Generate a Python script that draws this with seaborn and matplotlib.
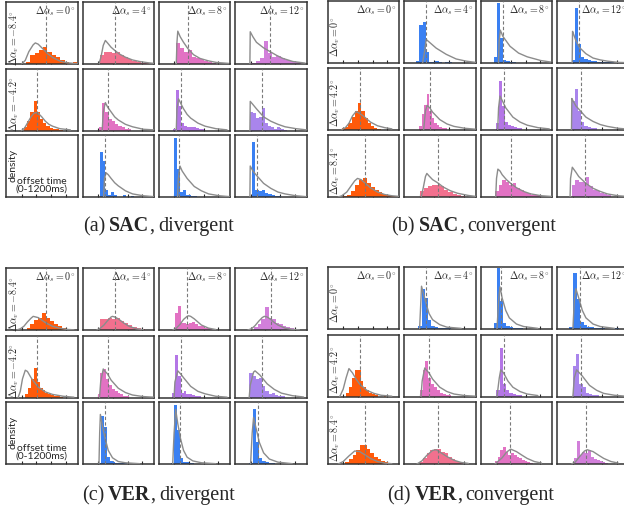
import numpy as np
import pandas as pd
import matplotlib
matplotlib.use("Agg")
import matplotlib.pyplot as plt
import seaborn as sns

# ---------------- labels ----------------
col_titles = [r"$\Delta\alpha_s = 0^{\circ}$", r"$\Delta\alpha_s = 4^{\circ}$",
              r"$\Delta\alpha_s = 8^{\circ}$", r"$\Delta\alpha_s = 12^{\circ}$"]
div_row_labels = [r"$\Delta\alpha_v = -8.4^{\circ}$", r"$\Delta\alpha_v = -4.2^{\circ}$", None]
conv_row_labels = [r"$\Delta\alpha_v = 0^{\circ}$", r"$\Delta\alpha_v = 4.2^{\circ}$", r"$\Delta\alpha_v = 8.4^{\circ}$"]
captions = [("(a)", "SAC", "divergent"), ("(b)", "SAC", "convergent"),
            ("(c)", "VER", "divergent"), ("(d)", "VER", "convergent")]
x_ticks = [250, 500, 750, 1000]

# ---------------- colours per cell (row-major, 3x4) ----------------
ORANGE, PINK, MAGENTA, ORCHID = "#FF5A0A", "#F2708E", "#E272C3", "#D27FDA"
VIOLET, LAVENDER, BLUE = "#B476E6", "#A985EC", "#3A80F2"
div_colors = [ORANGE, PINK, MAGENTA, ORCHID,
              ORANGE, MAGENTA, VIOLET, LAVENDER,
              None, BLUE, BLUE, BLUE]
conv_colors = [None, BLUE, BLUE, BLUE,
               ORANGE, MAGENTA, VIOLET, LAVENDER,
               ORANGE, PINK, MAGENTA, ORCHID]

# ---------------- (a) SAC divergent ----------------
sac_div_start = [322, 273, 285, 261, 285, 261, 224, 236, None, 273, 248, 273]
sac_div_width = [73, 70, 68, 71, 55, 55, 49, 52, None, 49, 49, 55]
sac_div_heights = [
    [0.04, 0.15, 0.17, 0.22, 0.28, 0.20, 0.15, 0.11, 0.07, 0.04, 0.02, 0.03],
    [0.15, 0.20, 0.20, 0.18, 0.19, 0.15, 0.12, 0.08, 0.055, 0.04, 0.02, 0.01],
    [0.34, 0.26, 0.20, 0.22, 0.12, 0.09, 0.08, 0.05, 0.04, 0.02],
    [0.02, 0.05, 0.10, 0.37, 0.17, 0.12, 0.13, 0.09, 0.07, 0.05, 0.04, 0.03],
    [0.06, 0.16, 0.30, 0.47, 0.30, 0.18, 0.12, 0.07, 0.04, 0.03, 0.02, 0.01],
    [0.05, 0.45, 0.30, 0.18, 0.15, 0.10, 0.07, 0.05, 0.03, 0.02],
    [0.03, 0.66, 0.40, 0.12, 0.08, 0.06, 0.05, 0.05, 0.04, 0.03, 0.02],
    [0.30, 0.28, 0.20, 0.22, 0.37, 0.12, 0.07, 0.05, 0.03, 0.05, 0.02, 0.01],
    None,
    [0.73, 0.58, 0.12, 0.04, 0.08, 0.03, 0.0, 0.0, 0.04, 0.0, 0.0, 0.01],
    [0.95, 0.45, 0.08, 0.12, 0.04, 0.03, 0.02, 0.01],
    [0.88, 0.12, 0.10, 0.12, 0.06, 0.05, 0.03, 0.02, 0.01],
]
sac_div_dash = [658, 530, 480, 575, 517, 420, 358, 443, None, 358, 334, 357]
sac_div_curve_x = [
    [248, 309, 370, 444, 480, 529, 614, 688, 785, 895, 1017, 1200],
    [261, 297, 334, 370, 407, 468, 529, 612, 712, 834, 956, 1100, 1200],
    [283, 295, 309, 350, 407, 480, 578, 688, 834, 968, 1176],
    [234, 240, 285, 346, 468, 578, 688, 797, 968, 1176],
    [248, 297, 346, 407, 456, 517, 590, 651, 712, 773, 895, 1078],
    [316, 334, 370, 407, 468, 529, 590, 712, 834, 1017, 1200],
    [283, 295, 322, 358, 407, 468, 529, 651, 773, 956, 1150],
    [234, 240, 285, 346, 468, 590, 712, 834, 1017, 1200],
    None,
    [340, 355, 383, 419, 468, 529, 590, 712, 834, 1017, 1200],
    [305, 318, 346, 383, 468, 590, 712, 834, 1017, 1200],
    [234, 240, 285, 346, 468, 590, 712, 834, 1017, 1200],
]
sac_div_curve_y = [
    [0, 0.06, 0.20, 0.31, 0.34, 0.32, 0.24, 0.17, 0.10, 0.05, 0.02, 0.005],
    [0, 0.12, 0.30, 0.38, 0.34, 0.27, 0.22, 0.16, 0.11, 0.065, 0.04, 0.02, 0.01],
    [0, 0.35, 0.53, 0.44, 0.35, 0.25, 0.15, 0.09, 0.05, 0.025, 0.01],
    [0, 0.52, 0.44, 0.35, 0.26, 0.20, 0.14, 0.09, 0.04, 0.015],
    [0, 0.04, 0.12, 0.22, 0.28, 0.29, 0.22, 0.15, 0.10, 0.07, 0.03, 0.01],
    [0, 0.30, 0.45, 0.38, 0.30, 0.22, 0.17, 0.10, 0.06, 0.02, 0.01],
    [0, 0.35, 0.51, 0.44, 0.35, 0.26, 0.20, 0.12, 0.07, 0.03, 0.01],
    [0, 0.47, 0.42, 0.35, 0.22, 0.15, 0.10, 0.06, 0.03, 0.01],
    None,
    [0, 0.30, 0.39, 0.36, 0.30, 0.23, 0.18, 0.10, 0.05, 0.02, 0.005],
    [0, 0.30, 0.50, 0.42, 0.30, 0.17, 0.10, 0.05, 0.02, 0.005],
    [0, 0.50, 0.42, 0.35, 0.22, 0.14, 0.08, 0.05, 0.02, 0.005],
]

# ---------------- (b) SAC convergent ----------------
sac_conv_start = [None, 187, 200, 224, 227, 236, 248, 224, 248, 248, 224, 224]
sac_conv_width = [None, 55, 55, 55, 55, 43, 49, 55, 67, 70, 61, 61]
sac_conv_heights = [
    None,
    [0.04, 0.62, 0.66, 0.18, 0.02, 0.02, 0.03, 0.02, 0.0, 0.02, 0.01],
    [0.10, 0.97, 0.40, 0.05, 0.03, 0.02, 0.01],
    [0.05, 0.88, 0.30, 0.10, 0.07, 0.05, 0.04, 0.03, 0.02, 0.02, 0.01, 0.02, 0.01],
    [0.02, 0.04, 0.10, 0.20, 0.30, 0.42, 0.30, 0.18, 0.10, 0.05, 0.03, 0.01],
    [0.05, 0.25, 0.40, 0.57, 0.30, 0.18, 0.10, 0.07, 0.04, 0.03, 0.02],
    [0.10, 0.78, 0.38, 0.12, 0.08, 0.05, 0.04, 0.03, 0.02],
    [0.46, 0.66, 0.30, 0.12, 0.06, 0.04, 0.03, 0.02],
    [0.02, 0.04, 0.10, 0.20, 0.27, 0.30, 0.22, 0.16, 0.12, 0.08, 0.05, 0.03, 0.02, 0.02],
    [0.10, 0.15, 0.17, 0.20, 0.19, 0.17, 0.12, 0.08, 0.05, 0.03, 0.02],
    [0.10, 0.20, 0.28, 0.25, 0.20, 0.22, 0.15, 0.12, 0.08, 0.06, 0.04, 0.03, 0.02],
    [0.20, 0.28, 0.25, 0.25, 0.32, 0.18, 0.12, 0.10, 0.06, 0.05, 0.03],
]
sac_conv_dash = [None, 358, 358, 358, 529, 425, 370, 383, 614, 555, 490, 456]
sac_conv_curve_x = [
    None,
    [297, 334, 358, 383, 529, 700, 870, 1040, 1200],
    [283, 295, 315, 358, 480, 626, 773, 1005, 1176],
    [234, 240, 260, 297, 358, 468, 590, 712, 834, 1017, 1200],
    [224, 285, 346, 407, 468, 529, 590, 712, 834, 956, 1078],
    [316, 346, 375, 419, 468, 590, 712, 834, 1017, 1200],
    [270, 285, 309, 346, 407, 529, 651, 773, 956, 1150],
    [222, 228, 250, 297, 346, 468, 590, 712, 834, 1017, 1200],
    [163, 224, 309, 383, 444, 492, 553, 614, 712, 834, 956, 1078, 1200],
    [273, 309, 346, 370, 407, 468, 553, 651, 773, 895, 1078, 1200],
    [236, 250, 273, 309, 346, 419, 490, 590, 712, 834, 1017, 1200],
    [198, 206, 236, 297, 346, 468, 590, 712, 834, 1017, 1200],
]
sac_conv_curve_y = [
    None,
    [0, 0.20, 0.38, 0.36, 0.24, 0.14, 0.065, 0.03, 0.01],
    [0, 0.35, 0.53, 0.43, 0.27, 0.16, 0.10, 0.04, 0.015],
    [0, 0.51, 0.46, 0.36, 0.25, 0.15, 0.08, 0.05, 0.03, 0.01, 0.005],
    [0, 0.03, 0.10, 0.22, 0.29, 0.26, 0.22, 0.12, 0.06, 0.03, 0.01],
    [0, 0.30, 0.39, 0.35, 0.28, 0.16, 0.09, 0.05, 0.02, 0.005],
    [0, 0.35, 0.54, 0.47, 0.35, 0.20, 0.12, 0.07, 0.03, 0.01],
    [0, 0.50, 0.46, 0.38, 0.33, 0.20, 0.13, 0.08, 0.05, 0.02, 0.005],
    [0, 0.02, 0.08, 0.18, 0.26, 0.30, 0.28, 0.23, 0.15, 0.08, 0.04, 0.02, 0.01],
    [0, 0.15, 0.33, 0.38, 0.34, 0.28, 0.23, 0.16, 0.10, 0.06, 0.025, 0.01],
    [0, 0.30, 0.45, 0.42, 0.36, 0.28, 0.22, 0.15, 0.09, 0.05, 0.02, 0.008],
    [0, 0.30, 0.48, 0.40, 0.33, 0.22, 0.14, 0.09, 0.05, 0.02, 0.008],
]

# ---------------- (c) VER divergent ----------------
ver_div_start = [330, 273, 261, 309, 310, 236, 212, 224, None, 248, 200, 224]
ver_div_width = [67, 70, 49, 61, 49, 49, 49, 55, None, 49, 49, 55]
ver_div_heights = [
    [0.03, 0.10, 0.16, 0.20, 0.28, 0.20, 0.15, 0.10, 0.07, 0.04, 0.02, 0.02],
    [0.18, 0.18, 0.20, 0.17, 0.20, 0.15, 0.12, 0.08, 0.05, 0.03, 0.02],
    [0.28, 0.39, 0.12, 0.12, 0.10, 0.12, 0.13, 0.10, 0.07, 0.06, 0.04, 0.03, 0.02],
    [0.05, 0.10, 0.18, 0.37, 0.20, 0.17, 0.12, 0.10, 0.07, 0.05, 0.03, 0.02],
    [0.05, 0.15, 0.30, 0.47, 0.25, 0.15, 0.12, 0.08, 0.05, 0.04, 0.03, 0.02, 0.01],
    [0.05, 0.40, 0.46, 0.30, 0.20, 0.14, 0.10, 0.07, 0.05, 0.03, 0.02],
    [0.08, 0.68, 0.35, 0.08, 0.10, 0.05, 0.06, 0.04, 0.03, 0.02],
    [0.40, 0.35, 0.30, 0.31, 0.19, 0.10, 0.06, 0.08, 0.04, 0.03, 0.02],
    None,
    [0.02, 0.78, 0.59, 0.12, 0.05, 0.04, 0.02, 0.01, 0.02, 0.01],
    [0.02, 0.95, 0.55, 0.10, 0.04, 0.03, 0.02, 0.01],
    [0.02, 0.88, 0.35, 0.10, 0.05, 0.03, 0.02, 0.01],
]
ver_div_dash = [658, 530, 470, 590, 505, 415, 358, 443, None, 358, 346, 370]
ver_div_curve_x = [
    [163, 224, 285, 346, 407, 444, 529, 590, 651, 773, 895, 1017, 1139],
    [224, 285, 346, 407, 468, 492, 529, 590, 688, 773, 895, 1017],
    [224, 285, 346, 407, 468, 492, 529, 590, 651, 712, 834, 956],
    [200, 261, 322, 383, 444, 480, 529, 590, 651, 712, 834, 956, 1078],
    [187, 224, 261, 309, 346, 407, 468, 529, 651, 773, 956, 1139],
    [270, 290, 334, 358, 407, 468, 590, 712, 834, 1017, 1200],
    [246, 260, 309, 358, 407, 529, 651, 773, 956, 1150],
    [222, 240, 297, 322, 407, 529, 651, 773, 956, 1150],
    None,
    [261, 273, 285, 322, 370, 419, 492, 590, 712, 956],
    [222, 246, 273, 309, 358, 407, 468, 566, 712, 956],
    [246, 273, 297, 346, 395, 468, 566, 712, 956],
]
ver_div_curve_y = [
    [0, 0.02, 0.06, 0.13, 0.19, 0.22, 0.20, 0.16, 0.12, 0.06, 0.03, 0.01, 0.003],
    [0, 0.03, 0.08, 0.15, 0.21, 0.22, 0.21, 0.18, 0.11, 0.06, 0.02, 0.005],
    [0, 0.03, 0.09, 0.17, 0.22, 0.23, 0.22, 0.18, 0.13, 0.08, 0.03, 0.008],
    [0, 0.02, 0.07, 0.14, 0.20, 0.22, 0.21, 0.17, 0.12, 0.08, 0.03, 0.01, 0.003],
    [0, 0.10, 0.30, 0.44, 0.42, 0.32, 0.24, 0.17, 0.09, 0.05, 0.02, 0.005],
    [0, 0.25, 0.46, 0.43, 0.38, 0.28, 0.15, 0.08, 0.04, 0.015, 0.005],
    [0, 0.25, 0.43, 0.38, 0.32, 0.18, 0.10, 0.06, 0.02, 0.005],
    [0, 0.20, 0.41, 0.43, 0.36, 0.22, 0.13, 0.07, 0.03, 0.008],
    None,
    [0, 0.50, 0.80, 0.60, 0.40, 0.22, 0.10, 0.04, 0.02, 0.005],
    [0, 0.50, 0.88, 0.65, 0.40, 0.22, 0.11, 0.05, 0.02, 0.005],
    [0, 0.50, 0.75, 0.55, 0.35, 0.18, 0.08, 0.03, 0.005],
]

# ---------------- (d) VER convergent ----------------
ver_conv_start = [None, 224, 200, 187, 300, 248, 248, 248, 285, 248, 224, 261]
ver_conv_width = [None, 55, 55, 61, 49, 49, 55, 55, 61, 61, 46, 49]
ver_conv_heights = [
    None,
    [0.05, 0.65, 0.50, 0.15, 0.05, 0.03, 0.02, 0.02, 0.01, 0.01],
    [0.10, 0.98, 0.45, 0.10, 0.05, 0.03, 0.02, 0.01, 0.01],
    [0.04, 0.90, 0.48, 0.12, 0.06, 0.04, 0.03, 0.02, 0.02, 0.01, 0.0, 0.0, 0.02, 0.01],
    [0.05, 0.15, 0.30, 0.43, 0.43, 0.25, 0.15, 0.10, 0.06, 0.04, 0.02, 0.0, 0.0, 0.02],
    [0.10, 0.43, 0.58, 0.30, 0.20, 0.15, 0.10, 0.06, 0.04, 0.03, 0.02],
    [0.10, 0.78, 0.20, 0.10, 0.05, 0.04, 0.03, 0.02],
    [0.50, 0.68, 0.20, 0.15, 0.05, 0.04, 0.03, 0.02],
    [0.03, 0.08, 0.15, 0.22, 0.30, 0.31, 0.25, 0.18, 0.12, 0.08, 0.05, 0.03],
    [0.03, 0.10, 0.18, 0.22, 0.25, 0.24, 0.20, 0.17, 0.12, 0.08, 0.05, 0.03],
    [0.05, 0.12, 0.23, 0.27, 0.20, 0.15, 0.18, 0.14, 0.12, 0.10, 0.06, 0.05, 0.03, 0.02],
    [0.10, 0.37, 0.15, 0.20, 0.18, 0.22, 0.12, 0.08, 0.07, 0.05, 0.03, 0.02],
]
ver_conv_dash = [None, 358, 334, 370, 529, 407, 370, 383, 614, 566, 480, 468]
ver_conv_curve_x = [
    None,
    [246, 270, 279, 346, 407, 468, 590, 712, 956],
    [258, 285, 309, 346, 407, 468, 590, 712, 956],
    [246, 270, 297, 346, 407, 468, 590, 712, 956],
    [187, 200, 248, 297, 346, 407, 468, 529, 651, 773, 895, 1078],
    [270, 290, 334, 358, 407, 468, 590, 712, 834, 1017, 1200],
    [258, 297, 322, 370, 444, 529, 651, 773, 956],
    [246, 270, 309, 407, 529, 651, 773, 956, 1150],
    [163, 248, 346, 444, 529, 614, 712, 834, 956, 1078],
    [200, 285, 370, 468, 529, 614, 712, 834, 956, 1078],
    [224, 248, 346, 419, 492, 590, 688, 773, 895, 1017],
    [224, 285, 370, 444, 492, 590, 688, 773, 895, 1017],
]
ver_conv_curve_y = [
    None,
    [0, 0.50, 0.69, 0.45, 0.25, 0.15, 0.07, 0.03, 0.01],
    [0, 0.45, 0.68, 0.50, 0.30, 0.18, 0.08, 0.04, 0.01],
    [0, 0.45, 0.65, 0.50, 0.30, 0.18, 0.08, 0.04, 0.01],
    [0, 0.02, 0.12, 0.30, 0.45, 0.38, 0.28, 0.20, 0.10, 0.05, 0.02, 0.005],
    [0, 0.25, 0.46, 0.43, 0.38, 0.28, 0.15, 0.08, 0.04, 0.015, 0.005],
    [0, 0.30, 0.43, 0.38, 0.25, 0.15, 0.08, 0.04, 0.015],
    [0, 0.30, 0.43, 0.33, 0.18, 0.10, 0.05, 0.02, 0.005],
    [0, 0.04, 0.13, 0.21, 0.20, 0.15, 0.09, 0.04, 0.015, 0.005],
    [0, 0.05, 0.14, 0.22, 0.23, 0.18, 0.12, 0.06, 0.025, 0.01],
    [0, 0.02, 0.10, 0.19, 0.24, 0.20, 0.14, 0.09, 0.04, 0.015],
    [0, 0.03, 0.13, 0.21, 0.23, 0.20, 0.14, 0.09, 0.04, 0.015],
]

# ---------------- style ----------------
sns.set_theme(style="white")
plt.rcParams["font.family"] = ["Lato", "DejaVu Sans"]
plt.rcParams["mathtext.fontset"] = "cm"
CAP_FAMILY = ["Liberation Serif", "DejaVu Serif"]

W, H = 624, 510
fig = plt.figure(figsize=(W / 100, H / 100), dpi=100)
renderer = fig.canvas.get_renderer()

SPINE = "#333333"
CURVE = "#8c8c8c"
DASH = "#7a7a7a"

panels = [
    dict(start=sac_div_start, width=sac_div_width, heights=sac_div_heights, dash=sac_div_dash,
         cx=sac_div_curve_x, cy=sac_div_curve_y, colors=div_colors, rows=div_row_labels,
         lefts=[6, 82.5, 158.5, 235], tops=[3, 69.5, 136], kind="div"),
    dict(start=sac_conv_start, width=sac_conv_width, heights=sac_conv_heights, dash=sac_conv_dash,
         cx=sac_conv_curve_x, cy=sac_conv_curve_y, colors=conv_colors, rows=conv_row_labels,
         lefts=[327.5, 404, 480.7, 557.3], tops=[2, 68.5, 136], kind="conv"),
    dict(start=ver_div_start, width=ver_div_width, heights=ver_div_heights, dash=ver_div_dash,
         cx=ver_div_curve_x, cy=ver_div_curve_y, colors=div_colors, rows=div_row_labels,
         lefts=[6, 82.5, 158.5, 235], tops=[269, 336.5, 403], kind="div"),
    dict(start=ver_conv_start, width=ver_conv_width, heights=ver_conv_heights, dash=ver_conv_dash,
         cx=ver_conv_curve_x, cy=ver_conv_curve_y, colors=conv_colors, rows=conv_row_labels,
         lefts=[327.5, 404, 480.7, 557.3], tops=[268, 335.5, 403], kind="conv"),
]
AW, AH = 71.5, 62
caption_pos = [(158.5, 231), (474, 231), (158.5, 500), (471, 500)]


def draw_cell(ax, i, p):
    if p["heights"][i] is not None:
        w = float(p["width"][i])
        h = [float(v) for v in p["heights"][i]]
        edges = [float(p["start"][i]) + w * k for k in range(len(h) + 1)]
        df = pd.DataFrame({"t": [e + w / 2 for e in edges[:-1]], "h": h})
        sns.histplot(data=df, x="t", weights="h", bins=edges, stat="count",
                     color=p["colors"][i], alpha=1, linewidth=0, ax=ax, zorder=1)
        cdf = pd.DataFrame({"t": p["cx"][i], "d": p["cy"][i]})
        sns.lineplot(data=cdf, x="t", y="d", color=CURVE, linewidth=1.0, ax=ax, zorder=3)
        ax.axvline(p["dash"][i], color=DASH, lw=0.8, ls=(0, (3, 2)), zorder=4)
    ax.set_xlim(-20, 1200)
    ax.set_ylim(0, 1.0)
    ax.set_xlabel("")
    ax.set_ylabel("")
    ax.set_yticks([])
    ax.set_xticks(x_ticks)
    ax.tick_params(axis="x", direction="in", length=2.5, width=0.8, color="#222222",
                   labelbottom=False, bottom=True, pad=0)
    for s in ax.spines.values():
        s.set_color(SPINE)
        s.set_linewidth(1.1)


for pi, p in enumerate(panels):
    for r in range(3):
        for c in range(4):
            i = r * 4 + c
            left = p["lefts"][c]
            top = p["tops"][r]
            ax = fig.add_axes([left / W, 1 - (top + AH) / H, AW / W, AH / H])
            draw_cell(ax, i, p)
            if r == 0:
                ax.text(0.965, 0.985, col_titles[c], transform=ax.transAxes, ha="right",
                        va="top", fontsize=7.2)
            if c == 0 and p["rows"][r] is not None:
                ax.text(0.11, 0.44, p["rows"][r], transform=ax.transAxes, rotation=90,
                        ha="center", va="center", fontsize=7.2)
            if c == 0 and p["heights"][i] is None and p["kind"] == "div":
                ax.text(0.1, 0.52, "density", transform=ax.transAxes, rotation=90,
                        ha="center", va="center", fontsize=7.5)
                ax.text(0.5, 0.2, "offset time\n(0-1200ms)", transform=ax.transAxes,
                        ha="center", va="center", fontsize=7.5, linespacing=0.85)

# ---------------- captions with bold method name ----------------
CAP_FS = 14.5


def text_width(s, weight):
    t = fig.text(0, 0, s, fontsize=CAP_FS, fontweight=weight, family=CAP_FAMILY)
    wdt = t.get_window_extent(renderer).width
    t.remove()
    return wdt


space_w = 0.75 * (text_width("a a", "normal") - text_width("aa", "normal"))
for (lab, method, kind), (xc, yc) in zip(captions, caption_pos):
    parts = [(lab, "normal", space_w), (method, "bold", 0.0), (",", "normal", space_w),
             (kind, "normal", 0.0)]
    widths = [text_width(s, w) for s, w, _ in parts]
    total = sum(widths) + sum(g for _, _, g in parts)
    x = xc - total / 2
    for (s, w, g), wd in zip(parts, widths):
        fig.text(x / W, 1 - yc / H, s, fontsize=CAP_FS, fontweight=w, ha="left",
                 va="baseline", family=CAP_FAMILY)
        x += wd + g

fig.savefig("out.png", dpi=100)
